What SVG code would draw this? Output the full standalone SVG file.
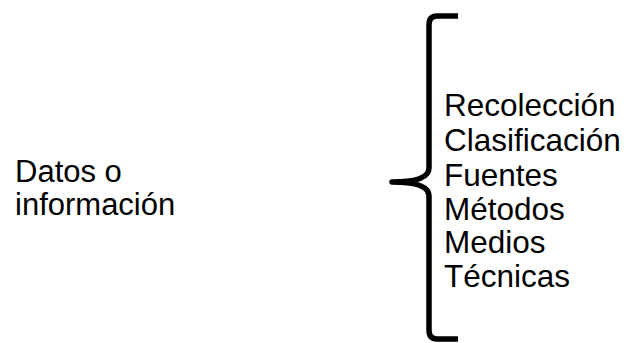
<svg xmlns="http://www.w3.org/2000/svg" width="624" height="343" viewBox="0 0 624 343">
  <style>
    .label { font-family: "Liberation Sans", Arial, sans-serif; font-size: 31px; fill: #000; }
    .item { font-size: 31.5px; }
    .brace { fill: none; stroke: #000; stroke-width: 5.5; stroke-linecap: butt; stroke-linejoin: round; }
  </style>
  <rect width="624" height="343" fill="#fff"/>
  <g id="source">
    <text class="label" x="15" y="182">Datos o</text>
    <text class="label" x="15" y="215">información</text>
  </g>
  <g id="connectors">
    <path class="brace" d="M458,16 L437,16 Q429,16 429,25 L429,168 Q429,182 392,182 Q429,182 429,196 L429,330 Q429,339 437,339 L458,339"/>
  </g>
  <g id="items">
    <text class="label item" x="444" y="116">Recolección</text>
    <text class="label item" x="444" y="151">Clasificación</text>
    <text class="label item" x="444" y="186">Fuentes</text>
    <text class="label item" x="444" y="220">Métodos</text>
    <text class="label item" x="444" y="253">Medios</text>
    <text class="label item" x="444" y="287">Técnicas</text>
  </g>
</svg>
